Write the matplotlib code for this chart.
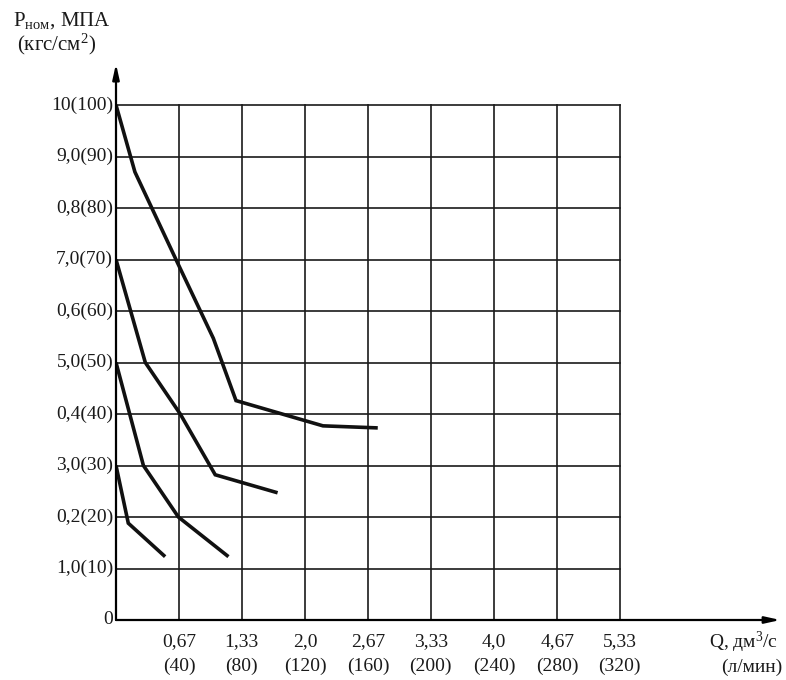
import matplotlib
matplotlib.use("Agg")
import matplotlib.pyplot as plt

plt.rcParams["font.family"] = ["Liberation Serif", "DejaVu Serif"]
plt.rcParams["mathtext.fontset"] = "custom"
plt.rcParams["mathtext.rm"] = "Liberation Serif"
plt.rcParams["mathtext.it"] = "Liberation Serif"

# grid / tick values
q_ticks = [0.67, 1.33, 2.0, 2.67, 3.33, 4.0, 4.67, 5.33]
q_labels = ["0,67\n(40)", "1,33\n(80)", "2,0\n(120)", "2,67\n(160)",
            "3,33\n(200)", "4,0\n(240)", "4,67\n(280)", "5,33\n(320)"]
p_ticks = [0, 1, 2, 3, 4, 5, 6, 7, 8, 9, 10]
p_labels = ["0", "1,0(10)", "0,2(20)", "3,0(30)", "0,4(40)", "5,0(50)",
            "0,6(60)", "7,0(70)", "0,8(80)", "9,0(90)", "10(100)"]

# curves (Q in dm3/s, P in MPa)
curve1_q = [0, 0.2, 0.65, 1.03, 1.27, 2.19, 2.77]
curve1_p = [10, 8.7, 6.94, 5.47, 4.26, 3.77, 3.73]
curve2_q = [0, 0.31, 0.68, 1.05, 1.71]
curve2_p = [7.0, 5.0, 4.0, 2.82, 2.47]
curve3_q = [0, 0.29, 0.66, 1.19]
curve3_p = [5.0, 3.0, 2.0, 1.23]
curve4_q = [0, 0.13, 0.52]
curve4_p = [3.0, 1.88, 1.23]

W, H = 786, 680
x0_px, y0_px = 116, 620
px_per_q = 63 / 0.6667
px_per_p = 51.5

fig = plt.figure(figsize=(W / 100, H / 100), dpi=100)
ax = fig.add_axes([x0_px / W, 1 - y0_px / H, (W - x0_px) / W, (y0_px - 55) / H])
ax.set_xlim(0, (W - x0_px) / px_per_q)
ax.set_ylim(0, (y0_px - 55) / px_per_p)
ax.axis("off")

# grid
for q in q_ticks:
    ax.plot([q, q], [0, 10], color="#1a1a1a", lw=1.2)
for p in p_ticks[1:]:
    ax.plot([0, q_ticks[-1]], [p, p], color="#1a1a1a", lw=1.2)

# axes with arrows
ax.annotate("", xy=(7.03, 0), xytext=(0, 0),
            arrowprops=dict(arrowstyle="-|>,head_length=0.9,head_width=0.2",
                            color="black", lw=1.6, shrinkA=0, shrinkB=0))
ax.annotate("", xy=(0, 10.8), xytext=(0, 0),
            arrowprops=dict(arrowstyle="-|>,head_length=0.9,head_width=0.2",
                            color="black", lw=1.6, shrinkA=0, shrinkB=0))

# curves
for qs, ps in [(curve1_q, curve1_p), (curve2_q, curve2_p),
               (curve3_q, curve3_p), (curve4_q, curve4_p)]:
    ax.plot(qs, ps, color="#111111", lw=2.6, solid_capstyle="butt",
            solid_joinstyle="miter")

# tick labels
for p, lab in zip(p_ticks, p_labels):
    ax.text(-0.03, p, lab, ha="right", va="center", fontsize=14,
            color="#1a1a1a")
for q, lab in zip(q_ticks, q_labels):
    ax.text(q, -0.25, lab, ha="center", va="top", fontsize=14,
            color="#1a1a1a", linespacing=1.6)

# axis titles
fig.text(778 / W, 1 - 642 / H, "Q, дм$^3$/с", ha="right", va="center",
         fontsize=14, color="#1a1a1a")
fig.text(782 / W, 1 - 667 / H, "(л/мин)", ha="right", va="center",
         fontsize=14, color="#1a1a1a")
fig.text(13 / W, 1 - 10 / H, "P$_{\\mathrm{ном}}$, МПА", ha="left", va="top",
         fontsize=15, color="#1a1a1a")
fig.text(17 / W, 1 - 32 / H, "(кгс/см$^2$)", ha="left", va="top",
         fontsize=15, color="#1a1a1a")

fig.savefig("out.png", dpi=100, facecolor="white")
